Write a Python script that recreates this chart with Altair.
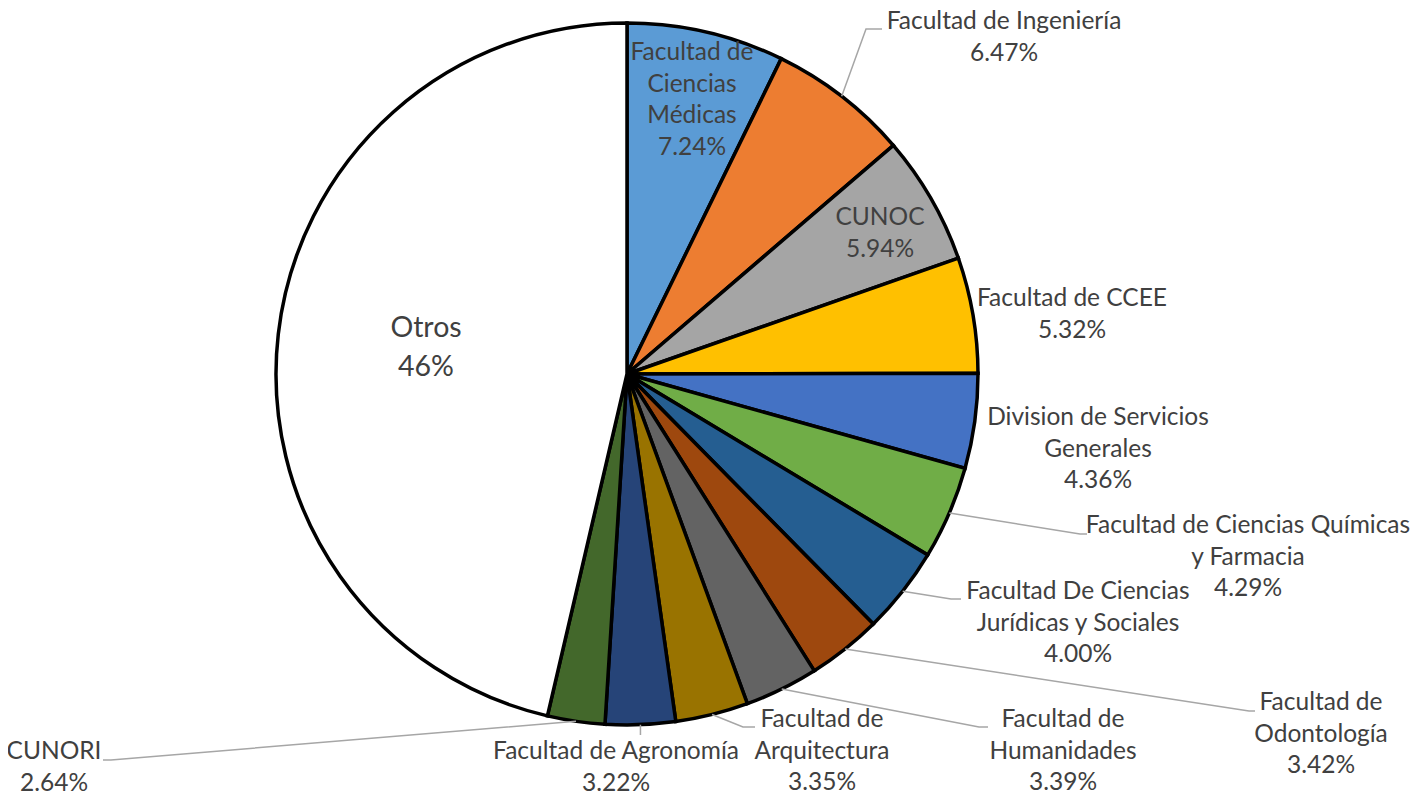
import math
import altair as alt
import pandas as pd

# ---------------- data ----------------
categories = [
    "Facultad de Ciencias Médicas", "Facultad de Ingeniería", "CUNOC",
    "Facultad de CCEE", "Division de Servicios Generales",
    "Facultad de Ciencias Químicas y Farmacia",
    "Facultad De Ciencias Jurídicas y Sociales", "Facultad de Odontología",
    "Facultad de Humanidades", "Facultad de Arquitectura",
    "Facultad de Agronomía", "CUNORI", "Otros",
]
values = [7.24, 6.47, 5.94, 5.32, 4.36, 4.29, 4.00, 3.42, 3.39, 3.35, 3.22, 2.64, 46.36]
value_labels = ["7.24%", "6.47%", "5.94%", "5.32%", "4.36%", "4.29%", "4.00%",
                "3.42%", "3.39%", "3.35%", "3.22%", "2.64%", "46%"]
name_lines = [
    ["Facultad de", "Ciencias", "Médicas"],
    ["Facultad de Ingeniería"],
    ["CUNOC"],
    ["Facultad de CCEE"],
    ["Division de Servicios", "Generales"],
    ["Facultad de Ciencias Químicas", "y Farmacia"],
    ["Facultad De Ciencias", "Jurídicas y Sociales"],
    ["Facultad de", "Odontología"],
    ["Facultad de", "Humanidades"],
    ["Facultad de", "Arquitectura"],
    ["Facultad de Agronomía"],
    ["CUNORI"],
    ["Otros"],
]
colors = ["#5B9BD5", "#ED7D31", "#A5A5A5", "#FFC000", "#4472C4", "#70AD47",
          "#255E91", "#9E480E", "#636363", "#997300", "#264478", "#43682B", "#FFFFFF"]

# ---------------- layout (pixels, relative to pie centre, y down) ----------------
W, H = 1402, 787
CX, CY, R = 619, 366, 351
# position of the first line of each label
label_pos = {
    "Facultad de Ciencias Médicas": (65, -321),
    "Facultad de Ingeniería": (377, -352),
    "CUNOC": (253, -156),
    "Facultad de CCEE": (445, -75),
    "Division de Servicios Generales": (471, 44),
    "Facultad de Ciencias Químicas y Farmacia": (621, 152),
    "Facultad De Ciencias Jurídicas y Sociales": (451, 218),
    "Facultad de Odontología": (694, 329),
    "Facultad de Humanidades": (436, 346),
    "Facultad de Arquitectura": (195, 346),
    "Facultad de Agronomía": (-11, 378),
    "CUNORI": (-573, 378),
    "Otros": (-201, -46),
}
leader_pts = {
    "Facultad de Ingeniería": [(239, -345), (255, -345)],
    "Facultad de Ciencias Químicas y Farmacia": [(453, 160), (460, 160)],
    "Facultad De Ciencias Jurídicas y Sociales": [(324, 225), (334, 225)],
    "Facultad de Odontología": [(622, 337), (628, 337)],
    "Facultad de Humanidades": [(352, 353), (361, 353)],
    "Facultad de Arquitectura": [(116, 353), (128, 353)],
    "Facultad de Agronomía": [(None, 361)],
    "CUNORI": [(-516, 386), (-524, 386)],
}

# ---------------- tables ----------------
pie_df = pd.DataFrame({"cat": categories, "value": values, "idx": list(range(len(values)))})

total = sum(values)
cum = 0.0
mid_angle = {}
for c, v in zip(categories, values):
    mid_angle[c] = (cum + v / 2) / total * 2 * math.pi
    cum += v

line_rows = []
for c, pts in leader_pts.items():
    a = mid_angle[c]
    sx, sy = R * math.sin(a), -R * math.cos(a)
    line_rows.append({"cat": c, "pt": 0, "x": sx, "y": sy})
    for i, (px, py) in enumerate(pts, start=1):
        line_rows.append({"cat": c, "pt": i, "x": sx if px is None else px, "y": py})
lines_df = pd.DataFrame(line_rows)

text_rows = []
for c, nl, vl in zip(categories, name_lines, value_labels):
    if c == "Otros":
        continue
    dx, dy = label_pos[c]
    text_rows.append({"cat": c, "x": dx, "y": dy, "txt": nl + [vl]})
text_df = pd.DataFrame(text_rows)
otros_df = pd.DataFrame([{"x": label_pos["Otros"][0], "y": label_pos["Otros"][1],
                          "txt": name_lines[-1] + [value_labels[-1]]}])

xs = alt.Scale(domain=[-CX, W - CX], range=[0, W], nice=False, zero=False)
ys = alt.Scale(domain=[-CY, H - CY], range=[0, H], nice=False, zero=False)

pie = alt.Chart(pie_df).mark_arc(outerRadius=R, stroke="black", strokeWidth=3.5).encode(
    theta=alt.Theta("value:Q", stack=True),
    color=alt.Color("cat:N", scale=alt.Scale(domain=categories, range=colors), legend=None),
    order=alt.Order("idx:Q"),
    x=alt.XDatum(0, type="quantitative", scale=xs, axis=None),
    y=alt.YDatum(0, type="quantitative", scale=ys, axis=None),
)

leaders = alt.Chart(lines_df).mark_line(color="#A6A6A6", strokeWidth=1.5).encode(
    x=alt.X("x:Q", scale=xs, axis=None),
    y=alt.Y("y:Q", scale=ys, axis=None),
    detail="cat:N",
    order="pt:Q",
)

labels = alt.Chart(text_df).mark_text(
    font="Lato", fontSize=24.5, color="#404040", lineHeight=31.7,
    align="center", baseline="middle",
).encode(
    x=alt.X("x:Q", scale=xs, axis=None),
    y=alt.Y("y:Q", scale=ys, axis=None),
    text="txt",
)

otros = alt.Chart(otros_df).mark_text(
    font="Lato", fontSize=28.5, color="#404040", lineHeight=39,
    align="center", baseline="middle",
).encode(
    x=alt.X("x:Q", scale=xs, axis=None),
    y=alt.Y("y:Q", scale=ys, axis=None),
    text="txt",
)

chart = alt.layer(pie, leaders, labels, otros).properties(
    width=W, height=H, padding=0, autosize="none", background="white",
).configure_view(stroke=None)

chart.save("out.html", embed_options={"renderer": "svg", "actions": False})
